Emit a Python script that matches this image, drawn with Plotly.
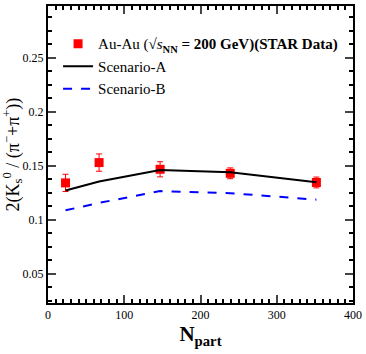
import plotly.graph_objects as go

# STAR data, Au-Au 200 GeV
npart_data = [23, 67, 147, 239, 352]
ratio_data = [0.134, 0.1528, 0.1466, 0.1429, 0.1344]
ratio_err = [0.008, 0.008, 0.007, 0.005, 0.005]

# model curves
npart_model = [23, 67, 147, 239, 352]
scenario_a = [0.127, 0.1353, 0.146, 0.1438, 0.1347]
scenario_b = [0.1086, 0.1155, 0.1264, 0.1245, 0.1185]

x_ticks = [0, 100, 200, 300, 400]
y_ticks = [0.05, 0.1, 0.15, 0.2, 0.25]

serif = '"Liberation Serif", "Times New Roman", Times, serif'

fig = go.Figure()
fig.add_trace(go.Scatter(
    x=npart_data, y=ratio_data, mode="markers",
    marker=dict(symbol="square", size=9, color="#ff0000"),
    error_y=dict(type="data", array=ratio_err, color="#ff0000", thickness=1, width=3),
    name="Au-Au (√<i>s</i><sub><b>NN</b></sub><b> = 200 GeV)(STAR Data)</b>"
))
fig.add_trace(go.Scatter(
    x=npart_model, y=scenario_a, mode="lines",
    line=dict(color="black", width=2),
    name="Scenario-A"
))
fig.add_trace(go.Scatter(
    x=npart_model, y=scenario_b, mode="lines",
    line=dict(color="#0000ff", width=2, dash="dash"),
    name="Scenario-B"
))

fig.update_layout(
    width=366, height=354,
    margin=dict(l=48, r=11, t=4, b=51),
    plot_bgcolor="white", paper_bgcolor="white",
    font=dict(family=serif, color="black", size=12),
    showlegend=True,
    legend=dict(
        x=0.033, y=0.928, xanchor="left", yanchor="top",
        bgcolor="rgba(0,0,0,0)", font=dict(size=15, family=serif),
        tracegroupgap=0, itemwidth=30
    ),
)
fig.update_xaxes(
    range=[0, 400], tickvals=x_ticks, ticks="inside", ticklen=8, tickwidth=1.5,
    showline=True, linecolor="black", linewidth=2, mirror="allticks",
    showgrid=False, zeroline=False,
    tickfont=dict(family=serif, size=12),
    minor=dict(ticks="inside", ticklen=4, dtick=10, tick0=0, showgrid=False, tickcolor="black"),
    title=dict(text="<b>N</b><sub><b>part</b></sub>", font=dict(size=21, family=serif), standoff=4),
)
fig.update_yaxes(
    range=[0.0228, 0.2978], tickvals=y_ticks, ticks="inside", ticklen=8, tickwidth=1.5,
    showline=True, linecolor="black", linewidth=2, mirror="allticks",
    showgrid=False, zeroline=False,
    tickfont=dict(family=serif, size=12),
    minor=dict(ticks="inside", ticklen=4, dtick=0.0125, tick0=0, showgrid=False, tickcolor="black"),
    title=dict(text="2(K<sub>s</sub><sup>0</sup> / (π<sup>−</sup>+π<sup>+</sup>))",
               font=dict(size=18, family=serif), standoff=2),
)

# drop the browser's default page margin so the figure sits at the window corner
fig.write_html("out.html", config={"displayModeBar": False},
               post_script="document.body.style.margin='0';")
